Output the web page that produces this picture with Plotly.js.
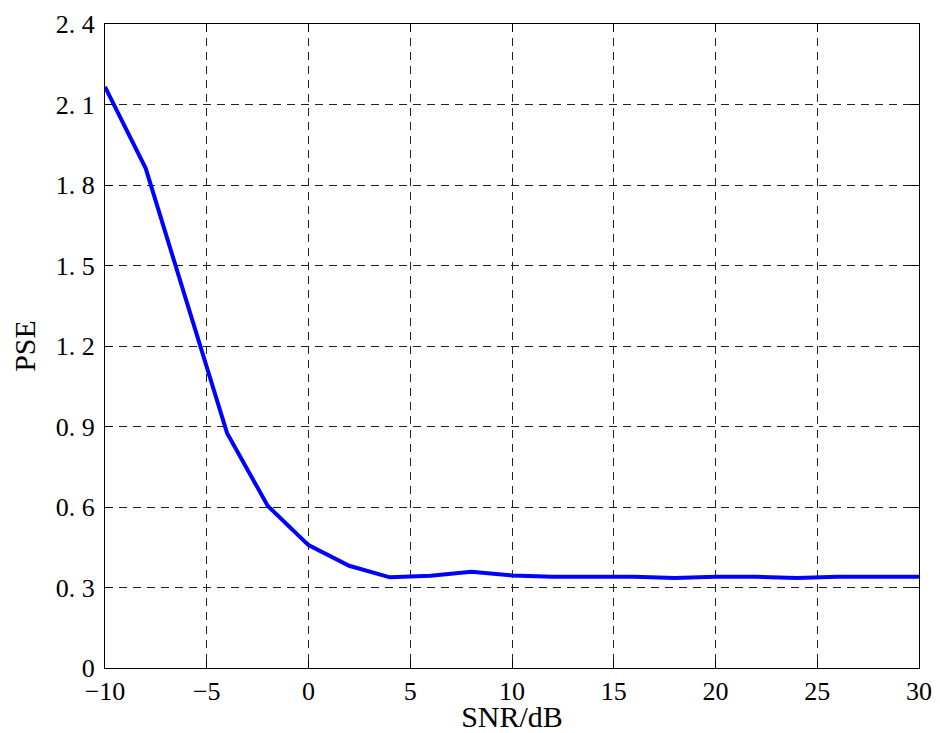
<!DOCTYPE html>
<html>
<head>
<meta charset="utf-8">
<script src="https://cdn.plot.ly/plotly-3.0.1.min.js"></script>
<style>html,body{margin:0;padding:0;background:#fff}#chart{width:940px;height:733px}</style>
</head>
<body>
<div id="chart"></div>
<script>
const snr = [-10, -8, -6, -4, -2, 0, 2, 4, 6, 8, 10, 12, 14, 16, 18, 20, 22, 24, 26, 28, 30];
const pse = [2.166, 1.862, 1.368, 0.875, 0.604, 0.458, 0.381, 0.338, 0.344, 0.359, 0.345, 0.340, 0.340, 0.340, 0.335, 0.340, 0.340, 0.335, 0.340, 0.340, 0.340];
const xTickVals = [-10, -5, 0, 5, 10, 15, 20, 25, 30];
const xTickText = ["\u221210", "\u22125", "0", "5", "10", "15", "20", "25", "30"];
const yTickVals = [0, 0.3, 0.6, 0.9, 1.2, 1.5, 1.8, 2.1, 2.4];
const yTickText = ["0", "0. 3", "0. 6", "0. 9", "1. 2", "1. 5", "1. 8", "2. 1", "2. 4"];

const fontFam = "Liberation Serif, DejaVu Serif, serif";
const trace = {
  x: snr, y: pse, type: "scatter", mode: "lines",
  line: {color: "#0000ff", width: 4}, hoverinfo: "skip"
};
const axisCommon = {
  showline: true, linecolor: "#000", linewidth: 1, mirror: "ticks",
  ticks: "inside", ticklen: 8, tickcolor: "#000", tickwidth: 1,
  showgrid: true, gridcolor: "#222", griddash: "8px,6px", gridwidth: 1,
  zeroline: false, tickfont: {family: fontFam, size: 26, color: "#000"}
};
const layout = {
  width: 940, height: 733,
  margin: {l: 105, r: 21, t: 24, b: 65},
  paper_bgcolor: "#fff", plot_bgcolor: "#fff",
  showlegend: false,
  xaxis: Object.assign({}, axisCommon, {
    range: [-10, 30], tickmode: "array", tickvals: xTickVals, ticktext: xTickText,
    ticklabelstandoff: 0,
    title: {text: "SNR/dB", font: {family: fontFam, size: 30, color: "#000"}, standoff: 0}
  }),
  yaxis: Object.assign({}, axisCommon, {
    range: [0, 2.4], tickmode: "array", tickvals: yTickVals, ticktext: yTickText,
    ticklabelstandoff: 4,
    title: {text: "PSE", font: {family: fontFam, size: 30, color: "#000"}, standoff: 11}
  })
};
Plotly.newPlot("chart", [trace], layout, {displayModeBar: false, staticPlot: true});
</script>
</body>
</html>
